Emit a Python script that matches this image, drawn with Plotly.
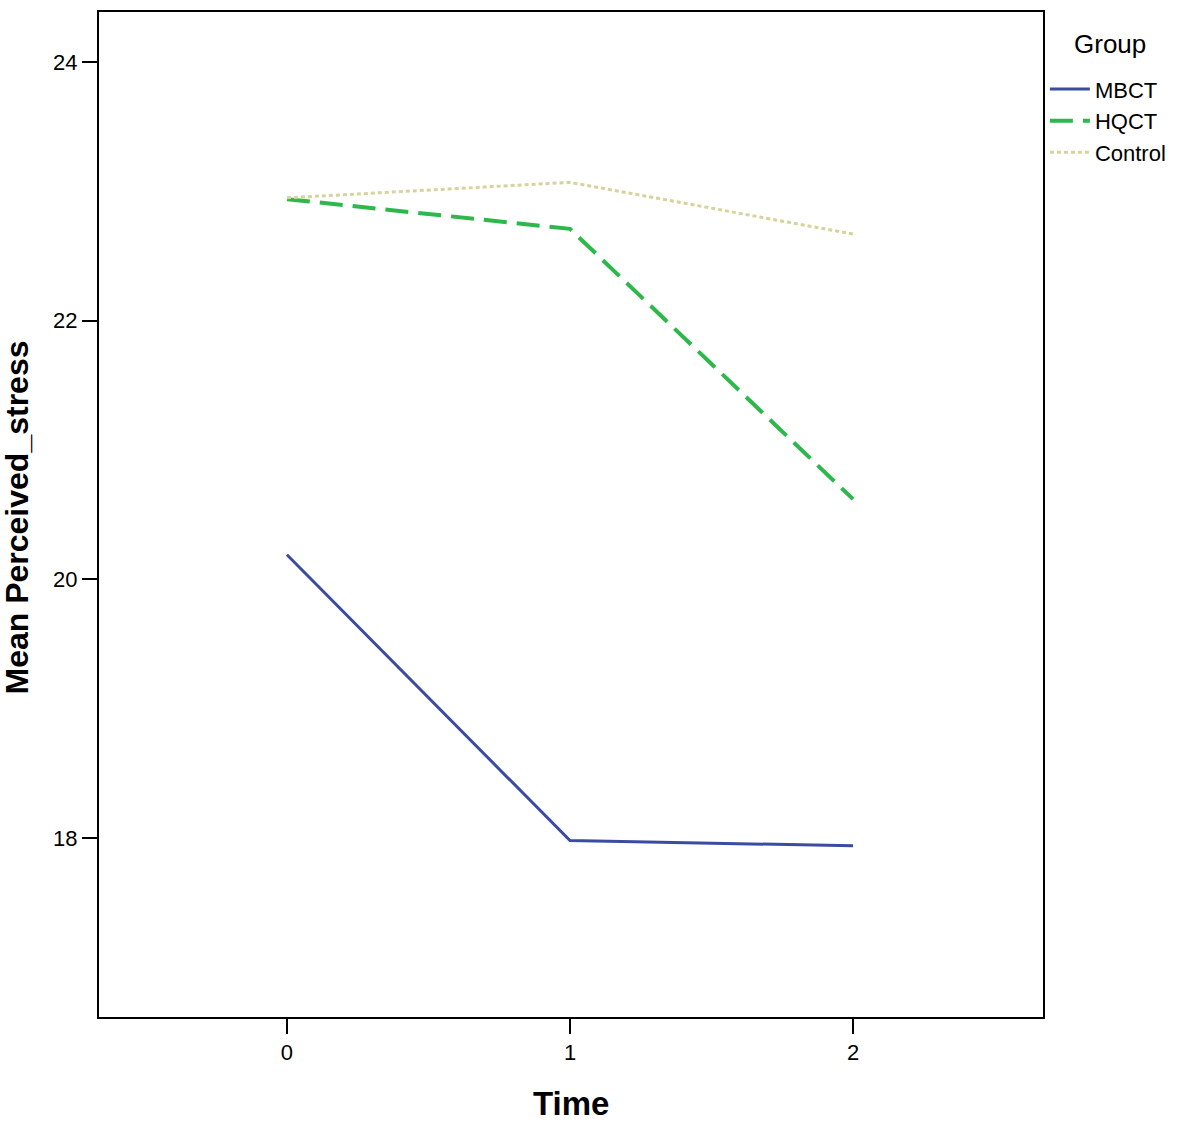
import plotly.graph_objects as go

time = [0, 1, 2]
groups = ["MBCT", "HQCT", "Control"]
mbct = [20.19, 17.98, 17.94]
hqct = [22.94, 22.71, 20.62]
control = [22.95, 23.07, 22.67]
y_ticks = [18, 20, 22, 24]
x_ticks = [0, 1, 2]

series = [
    (groups[0], mbct, "#3B4BA0", "solid", 3),
    (groups[1], hqct, "#2DB84B", "23px,10px", 4),
    (groups[2], control, "#D4D49C", "4px,3px", 3),
]

fig = go.Figure()
for name, vals, color, dash, w in series:
    fig.add_trace(go.Scatter(x=time, y=vals, mode="lines", name=name,
                             line=dict(color=color, dash=dash, width=w)))

font_family = "Liberation Sans, Arial, sans-serif"
fig.update_layout(
    width=1181, height=1126,
    margin=dict(l=99, r=138, t=12, b=109, autoexpand=False),
    plot_bgcolor="white", paper_bgcolor="white",
    font=dict(family=font_family, color="black"),
    showlegend=True,
    legend=dict(
        x=1.002, y=0.944, xanchor="left", yanchor="top",
        font=dict(size=22), tracegroupgap=0, itemwidth=40,
        bgcolor="rgba(0,0,0,0)",
    ),
    xaxis=dict(
        range=[-0.664, 2.671], tickvals=x_ticks, ticktext=[str(t) for t in x_ticks],
        ticks="outside", ticklen=15, tickwidth=2, tickcolor="black",
        showline=True, linecolor="black", linewidth=2, mirror=True,
        showgrid=False, zeroline=False, automargin=False,
        tickfont=dict(size=22),
    ),
    yaxis=dict(
        range=[16.616, 24.387], tickvals=y_ticks, ticktext=[str(t) for t in y_ticks],
        ticks="outside", ticklen=15, tickwidth=2, tickcolor="black",
        showline=True, linecolor="black", linewidth=2, mirror=True,
        showgrid=False, zeroline=False, automargin=False,
        tickfont=dict(size=22),
    ),
    annotations=[
        dict(text="<b>Time</b>", xref="paper", yref="paper", x=0.5, y=0,
             yshift=-86, xanchor="center", yanchor="middle", showarrow=False,
             font=dict(size=33)),
        dict(text="<b>Mean Perceived_stress</b>", xref="paper", yref="paper", x=0, y=0.5,
             xshift=-83, yshift=-3, xanchor="center", yanchor="middle", showarrow=False,
             textangle=-90, font=dict(size=32)),
        dict(text="Group", xref="paper", yref="paper", x=1.0, y=1.0,
             xshift=67, yshift=-32, xanchor="center", yanchor="middle", showarrow=False,
             font=dict(size=26)),
    ],
)

fig.write_html("out.html", config={"displayModeBar": False},
               post_script="document.body.style.margin='0';")
